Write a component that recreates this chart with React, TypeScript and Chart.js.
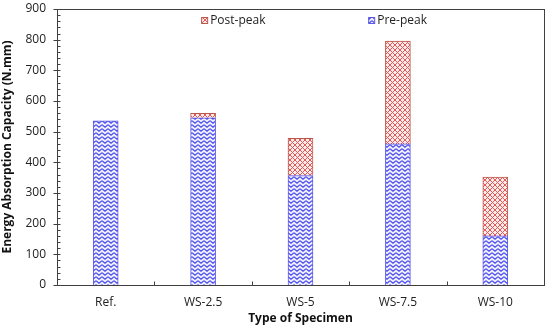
import React, { useEffect, useRef } from "react";
import { Chart, registerables } from "chart.js";

Chart.register(...registerables);

const categories = ["Ref.", "WS-2.5", "WS-5", "WS-7.5", "WS-10"];
const prePeak = [535, 545, 357, 460, 160];
const postPeak = [0, 15, 121, 335, 192];
const yTicks = [0, 100, 200, 300, 400, 500, 600, 700, 800, 900];

const FONT = "'Open Sans', 'Liberation Sans', sans-serif";

function makeZigzag(): CanvasPattern | string {
  const c = document.createElement("canvas");
  c.width = 6;
  c.height = 4;
  const g = c.getContext("2d");
  if (!g) return "#8080ff";
  g.fillStyle = "#f0f0ff";
  g.fillRect(0, 0, 6, 4);
  g.strokeStyle = "#5050f0";
  g.lineWidth = 1.3;
  g.beginPath();
  g.moveTo(0, 0.7);
  g.lineTo(3, 3.2);
  g.lineTo(6, 0.7);
  g.stroke();
  const p = g.createPattern(c, "repeat");
  return p || "#8080ff";
}

function makeCross(): CanvasPattern | string {
  const s = 5;
  const c = document.createElement("canvas");
  c.width = s;
  c.height = s;
  const g = c.getContext("2d");
  if (!g) return "#ff9090";
  g.fillStyle = "#ffeaea";
  g.fillRect(0, 0, s, s);
  g.strokeStyle = "#e05a5a";
  g.lineWidth = 1;
  g.beginPath();
  g.moveTo(0, 0);
  g.lineTo(s, s);
  g.moveTo(s, 0);
  g.lineTo(0, s);
  g.moveTo(-1, s - 1);
  g.lineTo(1, s + 1);
  g.moveTo(s - 1, -1);
  g.lineTo(s + 1, 1);
  g.stroke();
  const p = g.createPattern(c, "repeat");
  return p || "#ff9090";
}

const framePlugin = {
  id: "frame",
  afterDatasetsDraw(chart: any) {
    const { ctx, chartArea } = chart;
    const { left, right, top, bottom } = chartArea;
    const y = chart.scales.y;
    const x = chart.scales.x;
    ctx.save();
    ctx.strokeStyle = "#404040";
    ctx.lineWidth = 1;
    ctx.strokeRect(Math.round(left) + 0.5, Math.round(top) + 0.5, Math.round(right - left), Math.round(bottom - top));
    const ax = Math.round(left) + 0.5;
    for (let v = 0; v <= 900; v += 20) {
      const py = Math.round(y.getPixelForValue(v)) + 0.5;
      ctx.beginPath();
      if (v % 100 === 0) {
        ctx.moveTo(ax - 4, py);
        ctx.lineTo(ax + 3, py);
      } else {
        ctx.moveTo(ax, py);
        ctx.lineTo(ax + 3, py);
      }
      ctx.stroke();
    }
    const by = Math.round(bottom) + 0.5;
    for (let i = 1; i < categories.length; i++) {
      const px = Math.round((x.getPixelForValue(i - 1) + x.getPixelForValue(i)) / 2) + 0.5;
      ctx.beginPath();
      ctx.moveTo(px, by);
      ctx.lineTo(px, by - 4);
      ctx.stroke();
    }
    const w = right - left;
    const items = [
      { ds: chart.data.datasets[1], fx: 0.296 },
      { ds: chart.data.datasets[0], fx: 0.639 },
    ];
    ctx.font = `12px ${FONT}`;
    ctx.textBaseline = "middle";
    ctx.textAlign = "left";
    for (const it of items) {
      const bx = left + w * it.fx;
      const byy = top + 8;
      ctx.fillStyle = it.ds.backgroundColor;
      ctx.fillRect(bx, byy, 6, 6);
      ctx.strokeStyle = it.ds.borderColor;
      ctx.strokeRect(bx + 0.5, byy + 0.5, 6, 6);
      ctx.fillStyle = "#222";
      ctx.fillText(it.ds.label, bx + 9, byy + 3.5);
    }
    ctx.restore();
  },
};

export default function App() {
  const ref = useRef<HTMLCanvasElement | null>(null);
  useEffect(() => {
    document.body.style.margin = "0";
    const canvas = ref.current;
    if (!canvas) return;
    const chart = new Chart(canvas, {
      type: "bar",
      data: {
        labels: categories,
        datasets: [
          {
            label: "Pre-peak",
            data: prePeak,
            backgroundColor: makeZigzag() as any,
            borderColor: "#5a5ae6",
            borderWidth: 1,
            barThickness: 25,
          },
          {
            label: "Post-peak",
            data: postPeak,
            backgroundColor: makeCross() as any,
            borderColor: "#b8584a",
            borderWidth: 1,
            barThickness: 25,
          },
        ],
      },
      options: {
        animation: false,
        responsive: false,
        maintainAspectRatio: false,
        layout: { padding: { top: 9, right: 6, left: 0, bottom: 0 } },
        plugins: {
          legend: { display: false },
          tooltip: { enabled: false },
        },
        scales: {
          x: {
            stacked: true,
            grid: { display: false, drawTicks: false },
            border: { display: false },
            ticks: {
              color: "#222",
              font: { family: FONT, size: 12 },
              padding: 10,
            },
            title: {
              display: true,
              text: "Type of Specimen",
              color: "#111",
              font: { family: FONT, size: 12, weight: "bold" },
              padding: { top: 0, bottom: 0 },
            },
            afterFit(scale: any) {
              scale.height = 41;
              scale.paddingLeft = 0;
              scale.paddingRight = 0;
            },
          },
          y: {
            stacked: true,
            min: 0,
            max: 900,
            grid: { display: false, drawTicks: false },
            border: { display: false },
            afterBuildTicks(scale: any) {
              scale.ticks = yTicks.map((v) => ({ value: v }));
            },
            ticks: {
              color: "#222",
              font: { family: FONT, size: 12 },
              padding: 11,
            },
            title: {
              display: true,
              text: "Energy Absorption Capacity (N.mm)",
              color: "#111",
              font: { family: FONT, size: 12, weight: "bold" },
              padding: { top: 0, bottom: 0 },
            },
            afterFit(scale: any) {
              scale.width = 57;
              scale.paddingTop = 0;
              scale.paddingBottom = 0;
            },
          },
        },
      },
      plugins: [framePlugin],
    });
    return () => chart.destroy();
  }, []);
  return (
    <div style={{ position: "absolute", left: 0, top: 0, width: 550, height: 326, background: "#fff" }}>
      <canvas ref={ref} width={550} height={326} style={{ width: 550, height: 326 }} />
    </div>
  );
}
